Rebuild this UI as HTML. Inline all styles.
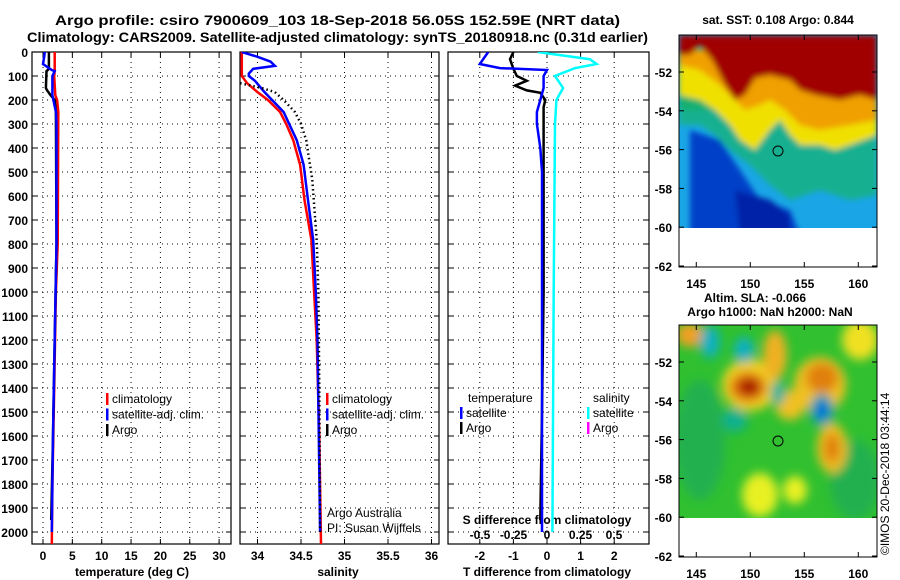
<!DOCTYPE html>
<html><head><meta charset="utf-8">
<style>
body{margin:0;background:#fff;}
svg{display:block;font-family:"Liberation Sans",sans-serif;}
</style></head>
<body>
<svg id="chart" width="900" height="580" viewBox="0 0 900 580" xmlns="http://www.w3.org/2000/svg">
<defs>
<filter id="blur3" x="-5%" y="-5%" width="110%" height="110%"><feGaussianBlur stdDeviation="3"/></filter>
<filter id="blur5" x="-20%" y="-20%" width="140%" height="140%"><feGaussianBlur stdDeviation="5"/></filter>
<clipPath id="mapclip1"><rect x="679" y="35" width="198" height="193"/></clipPath>
<clipPath id="mapclip2"><rect x="679" y="325" width="198" height="193"/></clipPath>
</defs>
<text x="55" y="25" font-size="14" font-weight="bold" textLength="565" lengthAdjust="spacingAndGlyphs">Argo profile: csiro 7900609_103 18-Sep-2018 56.05S 152.59E (NRT data)</text>
<text x="27" y="42" font-size="14" font-weight="bold" textLength="621" lengthAdjust="spacingAndGlyphs">Climatology: CARS2009. Satellite-adjusted climatology: synTS_20180918.nc (0.31d earlier)</text>

<!-- top map -->
<g>
<text x="778" y="24" font-size="12" font-weight="bold" text-anchor="middle">sat. SST: 0.108 Argo: 0.844</text>
<g clip-path="url(#mapclip1)">
<rect x="679" y="35" width="198" height="193" fill="#1aa6e6"/>
<g filter="url(#blur3)">
<polygon fill="#0040c8" points="690,130 720,140 740,170 760,200 790,210 800,235 690,235"/>
<polygon fill="#0020a8" points="735,190 770,200 790,215 790,235 740,235"/>
<polygon fill="#12b090" points="679,90 877,90 877,195 850,200 820,190 790,200 770,185 750,165 730,150 715,135 700,125 679,125"/>
<polygon fill="#14b070" points="679,90 700,95 720,110 679,110"/>
<polygon fill="#f0e000" points="679,55 877,55 877,135 850,145 835,150 820,145 800,145 790,135 780,120 770,130 755,150 740,140 730,125 715,110 700,100 679,95"/>
<polygon fill="#f0a000" points="679,50 877,50 877,120 850,125 820,130 800,125 785,110 770,100 760,105 745,110 720,85 700,70 679,65"/>
<polygon fill="#a00000" points="679,35 877,35 877,100 860,95 840,100 815,95 800,90 790,80 770,75 755,78 745,95 735,100 725,85 712,60 700,45 690,55 679,55"/>
</g>
</g>
<rect x="679" y="228" width="198" height="39" fill="#fff"/>
<circle cx="778" cy="151" r="5" fill="none" stroke="#000" stroke-width="1"/>
<rect x="679" y="35" width="198" height="232" fill="none" stroke="#000" stroke-width="1"/>
</g>

<!-- bottom map -->
<g>
<text x="755" y="302" font-size="12" font-weight="bold" text-anchor="middle">Altim. SLA: -0.066</text>
<text x="770" y="316" font-size="12" font-weight="bold" text-anchor="middle">Argo h1000: NaN h2000: NaN</text>
<g clip-path="url(#mapclip2)">
<rect x="679" y="325" width="198" height="193" fill="#30c030"/>
<g filter="url(#blur5)">
<ellipse cx="700" cy="440" rx="25" ry="60" fill="#20b050"/>
<ellipse cx="855" cy="480" rx="25" ry="40" fill="#20b050"/>
<ellipse cx="760" cy="495" rx="18" ry="22" fill="#e8f020"/>
<ellipse cx="795" cy="490" rx="12" ry="14" fill="#e8f020"/>
<ellipse cx="860" cy="340" rx="18" ry="20" fill="#f0e020"/>
<ellipse cx="690" cy="335" rx="14" ry="12" fill="#f0a020"/>
<ellipse cx="750" cy="385" rx="28" ry="26" fill="#f0d020"/>
<ellipse cx="748" cy="387" rx="18" ry="15" fill="#e07010"/>
<ellipse cx="749" cy="387" rx="10" ry="8" fill="#a00000"/>
<ellipse cx="775" cy="355" rx="12" ry="25" fill="#f0b020"/>
<ellipse cx="820" cy="385" rx="26" ry="28" fill="#f0c020"/>
<ellipse cx="822" cy="378" rx="16" ry="15" fill="#e08010"/>
<ellipse cx="790" cy="405" rx="15" ry="15" fill="#f0c020"/>
<ellipse cx="832" cy="448" rx="15" ry="25" fill="#f0c020"/>
<ellipse cx="832" cy="448" rx="8" ry="15" fill="#e08010"/>
<ellipse cx="710" cy="342" rx="10" ry="16" fill="#10b0c0"/>
<ellipse cx="744" cy="350" rx="10" ry="13" fill="#10b0c0"/>
<ellipse cx="822" cy="410" rx="12" ry="16" fill="#10a0b0"/>
<ellipse cx="822" cy="410" rx="5" ry="9" fill="#0060e0"/>
<ellipse cx="778" cy="393" rx="7" ry="12" fill="#10b0a0"/>
<ellipse cx="735" cy="420" rx="12" ry="12" fill="#10b090"/>
</g>
</g>
<rect x="679" y="518" width="198" height="39" fill="#fff"/>
<circle cx="778" cy="441" r="5" fill="none" stroke="#000" stroke-width="1"/>
<rect x="679" y="325" width="198" height="232" fill="none" stroke="#000" stroke-width="1"/>
<text transform="translate(889,555) rotate(-90)" font-size="12">©IMOS 20-Dec-2018 03:44:14</text>
</g>
<g id="dyn"></g>
</svg>
<script>
// ---------- data ----------
const depthTicks = [0,100,200,300,400,500,600,700,800,900,1000,1100,1200,1300,1400,1500,1600,1700,1800,1900,2000];
const tempTicks = [0,5,10,15,20,25,30];
const salTicks = [34,34.5,35,35.5,36];
const salTickLabels = ["34","34.5","35","35.5","36"];
const tdiffTicks = [-2,-1,0,1,2];
const sdiffTicks = [-0.5,-0.25,0,0.25,0.5];
const sdiffTickLabels = ["-0.5","-0.25","0","0.25","0.5"];

const tClimDepth = [0,80,100,180,200,250,800,1000,1400,1800,2050];
const tClimVal   = [2.0,2.0,1.9,2.1,2.4,2.6,2.5,2.2,1.9,1.6,1.5];
const tSatDepth  = [0,20,50,75,80,100,180,250,300,800,1200,1600,2000];
const tSatVal    = [0.3,0.2,0.0,1.5,2.0,1.6,1.6,2.2,2.3,2.3,2.0,1.7,1.5];
const tArgoDepth = [0,70,80,150,160,180,200,250,800,1200,1600,1950];
const tArgoVal   = [1.0,1.0,0.6,0.5,0.7,1.3,2.0,2.2,2.3,2.0,1.7,1.4];

const sClimDepth = [0,100,130,167,200,250,300,367,470,617,783,992,1200,1600,2050];
const sClimVal   = [33.82,33.82,33.88,34.0,34.12,34.26,34.33,34.41,34.49,34.54,34.62,34.65,34.68,34.71,34.73];
const sSatDepth  = [0,20,40,58,70,90,100,120,167,250,367,470,617,783,1000,1200,2000];
const sSatVal    = [33.82,34.0,34.15,34.2,33.95,33.9,33.9,33.97,34.08,34.3,34.45,34.53,34.58,34.64,34.67,34.69,34.72];
const sArgoDepth = [130,150,167,200,250,300,367,533,783,1000,1400,2000];
const sArgoVal   = [33.8,34.05,34.2,34.3,34.43,34.5,34.56,34.63,34.68,34.70,34.71,34.72];

const dTSatDepth = [0,50,67,75,100,150,200,250,300,400,500,1000,1500,2000];
const dTSatVal   = [-1.75,-2.0,-1.4,0.0,-0.1,-0.1,-0.2,-0.3,-0.3,-0.2,-0.15,-0.15,-0.15,-0.15];
const dTArgoDepth = [0,30,70,100,120,140,160,170,200,230,300,1000,1500,1950];
const dTArgoVal   = [-1.0,-1.1,-1.0,-0.9,-0.6,-0.95,-0.6,-0.2,-0.05,-0.1,-0.1,-0.1,-0.15,-0.2];
const dSSatDepth = [0,30,50,67,100,150,200,300,1000,2000];
const dSSatVal   = [-0.07,0.32,0.37,0.21,0.06,0.12,0.07,0.06,0.05,0.04];

const latTicks = [-52,-54,-56,-58,-60,-62];
const lonTicks = [145,150,155,160];

// ---------- scales ----------
const TOP=52, BOT=544;
const yD = d => TOP + d*0.24;
const xT = t => 43 + t*5.87;
const xS = s => 257.5 + (s-34)*87;
const xDT = t => 547 + t*33.6;
const xDS = s => 547 + s*134;
const P1=[32,231], P2=[240,439], P3=[448,649];
const NS="http://www.w3.org/2000/svg";
const root=document.getElementById('dyn');
function el(tag, attrs, parent){const e=document.createElementNS(NS,tag);for(const k in attrs)e.setAttribute(k,attrs[k]);(parent||root).appendChild(e);return e;}
function txt(x,y,s,size,anchor,name,weight){const t=el('text',{x:x,y:y,'font-size':size,'text-anchor':anchor||'start','font-weight':weight||'bold'});t.textContent=s;


return t;}
function line(d,v,xf,color,name,dash,w){
  const g=el('polyline',{points:d.map((dd,i)=>xf(v[i]).toFixed(1)+','+yD(dd).toFixed(1)).join(' '),fill:'none',stroke:color,'stroke-width':w||2.5,'stroke-dasharray':dash||'none'});
  
  
}
function panel(P,name){
  const g=el('rect',{x:P[0],y:TOP,width:P[1]-P[0],height:BOT-TOP,fill:'none',stroke:'#000','stroke-width':1.2});
  
  
  depthTicks.forEach(d=>{
    el('line',{x1:P[0],x2:P[1],y1:yD(d),y2:yD(d),stroke:'#000','stroke-width':1,'stroke-dasharray':'1 4'});
    el('line',{x1:P[0],x2:P[0]+5,y1:yD(d),y2:yD(d),stroke:'#000'});
    el('line',{x1:P[1]-5,x2:P[1],y1:yD(d),y2:yD(d),stroke:'#000'});
  });
}
function vgrid(P,xs){xs.forEach(x=>{el('line',{x1:x,x2:x,y1:TOP,y2:BOT,stroke:'#000','stroke-dasharray':'1 4'});el('line',{x1:x,x2:x,y1:BOT-5,y2:BOT,stroke:'#000'});el('line',{x1:x,x2:x,y1:TOP,y2:TOP+5,stroke:'#000'});});}

panel(P1,'temperature-panel'); panel(P2,'salinity-panel'); panel(P3,'difference-panel');
vgrid(P1,tempTicks.map(xT)); vgrid(P2,salTicks.map(xS)); vgrid(P3,tdiffTicks.map(xDT));
depthTicks.forEach(d=>txt(28,yD(d)+5,String(d),12,'end','depth-tick-label'));
tempTicks.forEach(t=>txt(xT(t),560,String(t),12,'middle','temperature-tick-label'));
salTicks.forEach((s,i)=>txt(xS(s),560,salTickLabels[i],12,'middle','salinity-tick-label'));
tdiffTicks.forEach(t=>txt(xDT(t),560,String(t),12,'middle','t-diff-tick-label'));
sdiffTicks.forEach((s,i)=>txt(xDS(s),539,sdiffTickLabels[i],12,'middle','s-diff-tick-label'));
txt(132,576,'temperature (deg C)',12,'middle','temperature-axis-title');
txt(338,576,'salinity',12,'middle','salinity-axis-title');
txt(547,576,'T difference from climatology',12,'middle','t-diff-axis-title');
txt(547,524,'S difference from climatology',12,'middle','s-diff-axis-title');

// clip groups
const c1=el('clipPath',{id:'c1'});el('rect',{x:P1[0],y:TOP,width:P1[1]-P1[0],height:BOT-TOP},c1);
const c2=el('clipPath',{id:'c2'});el('rect',{x:P2[0],y:TOP,width:P2[1]-P2[0],height:BOT-TOP},c2);
const c3=el('clipPath',{id:'c3'});el('rect',{x:P3[0],y:TOP,width:P3[1]-P3[0],height:BOT-TOP},c3);

const sv=root; 
let g1=el('g',{'clip-path':'url(#c1)'}); 
const oldRoot=root;
function inGroup(g,fn){const save=root.appendChild.bind(root);fn(g);}
// draw lines into groups
function lineIn(g,d,v,xf,color,name,dash,w){
  const p=el('polyline',{points:d.map((dd,i)=>xf(v[i]).toFixed(1)+','+yD(dd).toFixed(1)).join(' '),fill:'none',stroke:color,'stroke-width':w||2.5,'stroke-dasharray':dash||'none'},g);
  
  
}
lineIn(g1,tClimDepth,tClimVal,xT,'#f00','temp-climatology-line');
lineIn(g1,tArgoDepth,tArgoVal,xT,'#000','temp-argo-line');
lineIn(g1,tSatDepth,tSatVal,xT,'#00f','temp-satellite-line');
let g2=el('g',{'clip-path':'url(#c2)'});
lineIn(g2,sClimDepth,sClimVal,xS,'#f00','sal-climatology-line');
lineIn(g2,sSatDepth,sSatVal,xS,'#00f','sal-satellite-line');
lineIn(g2,sArgoDepth,sArgoVal,xS,'#000','sal-argo-line','1.5 3',2.5);
let g3=el('g',{'clip-path':'url(#c3)'});
lineIn(g3,dSSatDepth,dSSatVal,xDS,'#0ff','sal-diff-satellite-line');
lineIn(g3,dTArgoDepth,dTArgoVal,xDT,'#000','temp-diff-argo-line');
lineIn(g3,dTSatDepth,dTSatVal,xDT,'#00f','temp-diff-satellite-line');

// legends
function leg(x,y,color,label,name){const r=el('rect',{x:x,y:y-10,width:2.5,height:12,fill:color});


txt(x+6,y,label,12,'start',name,'normal');}
[['#f00','climatology'],['#00f','satellite-adj. clim.'],['#000','Argo']].forEach((it,i)=>{
  leg(106,403+i*15.5,it[0],it[1],'temp-legend-entry');
  leg(326,403+i*15.5,it[0],it[1],'sal-legend-entry');
});
txt(468,402,'temperature',12,'start','diff-temp-legend-header','normal');
leg(460,417,'#00f','satellite','diff-temp-legend-entry');
leg(460,432,'#000','Argo','diff-temp-legend-entry');
txt(593,402,'salinity',12,'start','diff-sal-legend-header','normal');
leg(587,417,'#0ff','satellite','diff-sal-legend-entry');
leg(587,432,'#f0f','Argo','diff-sal-legend-entry');
txt(327,517,'Argo Australia',12,'start','credit-argo-australia','normal');
txt(327,532,'PI: Susan Wijffels',12,'start','credit-pi','normal');

// map axes
const mx = lon => 679 + (lon-143.4)*10.8;
[[72,35],[362,325]].forEach((m,k)=>{
  const my = lat => m[0] + (-52-lat)*19.4;
  latTicks.forEach(l=>{const y=my(l);el('line',{x1:679,x2:684,y1:y,y2:y,stroke:'#000'});el('line',{x1:872,x2:877,y1:y,y2:y,stroke:'#000'});
    txt(672,y+5,String(l),12,'end','map-lat-tick-label');});
  lonTicks.forEach(l=>{const x=mx(l);el('line',{x1:x,x2:x,y1:m[1]+232-5,y2:m[1]+232,stroke:'#000'});el('line',{x1:x,x2:x,y1:m[1],y2:m[1]+5,stroke:'#000'});
    txt(x,m[1]+253,String(l),12,'middle','map-lon-tick-label');});
});
</script>
</body></html>
